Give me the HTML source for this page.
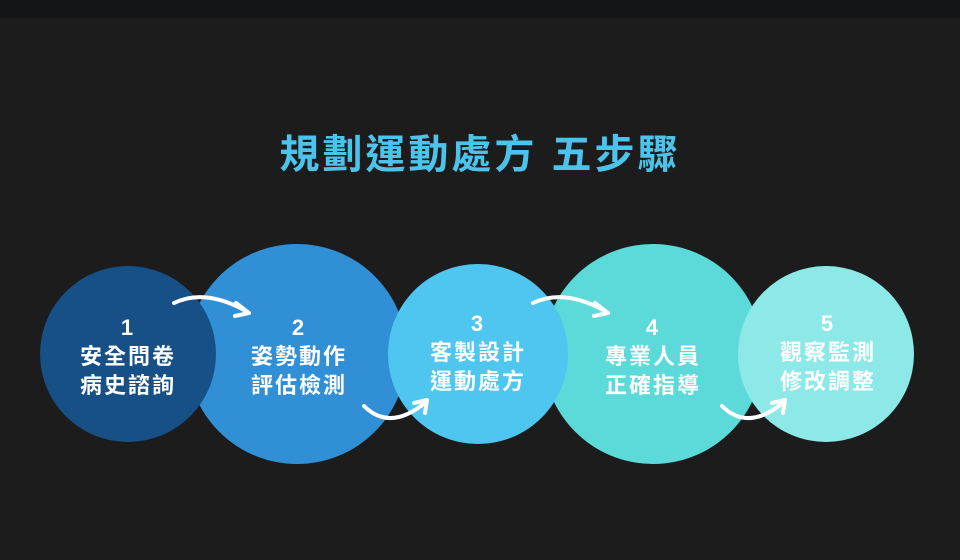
<!DOCTYPE html>
<html><head><meta charset="utf-8"><style>
body{margin:0;width:960px;height:560px;background:#1c1c1c;overflow:hidden;position:relative;font-family:"Liberation Sans","Noto Sans CJK TC",sans-serif}
.top{position:absolute;left:0;top:0;width:960px;height:18px;background:#141516}
.title{position:absolute;top:130px;left:0;width:960px;text-align:center;color:#4cc3ea;font-size:40px;line-height:50px;font-weight:bold;letter-spacing:3px}
.c{position:absolute;border-radius:50%}
.t{position:absolute;width:240px;text-align:center;color:#fff;font-weight:bold;font-size:22px;line-height:29px;letter-spacing:2px}
svg{position:absolute;left:0;top:0}
</style></head><body>
<div class="top"></div>
<div class="title">規劃運動處方 五步驟</div>
<div class="c" style="left:187px;top:244px;width:220px;height:220px;background:#318fd6"></div>
<div class="c" style="left:543px;top:244px;width:220px;height:220px;background:#5cd9d9"></div>
<div class="c" style="left:40px;top:266px;width:176px;height:176px;background:#175087"></div>
<div class="c" style="left:388px;top:264px;width:180px;height:180px;background:#4fc6ef"></div>
<div class="c" style="left:738px;top:266px;width:176px;height:176px;background:#8de8e8"></div>
<div class="t" style="left:8px;top:313px">1<br>安全問卷<br>病史諮詢</div>
<div class="t" style="left:179px;top:313px">2<br>姿勢動作<br>評估檢測</div>
<div class="t" style="left:358px;top:309px">3<br>客製設計<br>運動處方</div>
<div class="t" style="left:533px;top:313px">4<br>專業人員<br>正確指導</div>
<div class="t" style="left:708px;top:309px">5<br>觀察監測<br>修改調整</div>
<svg width="960" height="560" fill="none" stroke="#fff" stroke-width="4" stroke-linecap="round" stroke-linejoin="round">
<path d="M174 303 Q205 288 246 311"/><path d="M236 303 L249 313 L235 316"/>
<path d="M364 406 Q390 432 426 402"/><path d="M414 403 L427 400 L425 413"/>
<path d="M533 303 Q564 288 605 311"/><path d="M595 303 L608 313 L594 316"/>
<path d="M722 406 Q748 432 784 402"/><path d="M772 403 L785 400 L783 413"/>
</svg>
</body></html>
